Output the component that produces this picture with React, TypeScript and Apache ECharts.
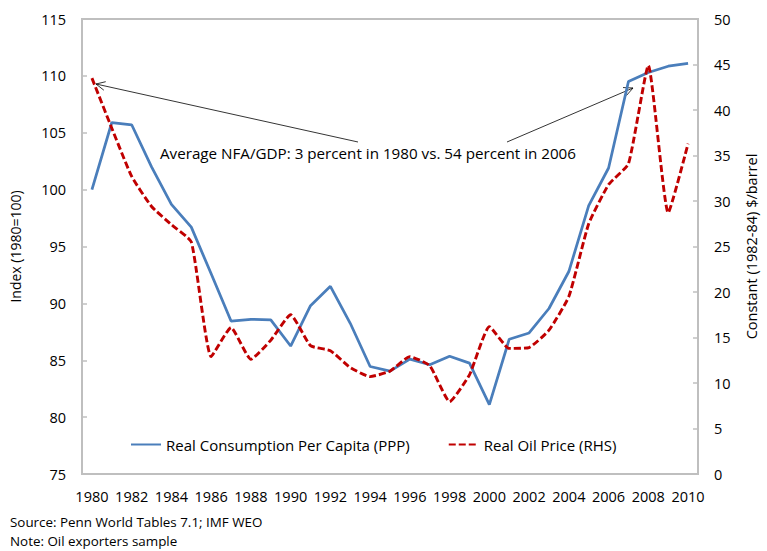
import React, { useEffect, useRef } from "react";
import * as echarts from "echarts";

const years: string[] = [];
for (let y = 1980; y <= 2010; y++) years.push(String(y));

const consumption = [
  100.0, 105.9, 105.7, 102.0, 98.7, 96.7, 92.6, 88.45, 88.6, 88.55,
  86.25, 89.8, 91.5, 88.25, 84.45, 84.05, 85.1, 84.6, 85.35, 84.75,
  81.1, 86.85, 87.4, 89.55, 92.8, 98.6, 101.9, 109.5, 110.3, 110.85,
  111.1,
];

const oilPrice = [
  43.5, 38.0, 32.7, 29.4, 27.4, 25.5, 12.9, 16.1, 12.6, 14.7,
  17.5, 14.1, 13.55, 11.7, 10.7, 11.3, 12.9, 11.9, 7.95, 10.9,
  16.2, 13.8, 13.9, 15.8, 19.5, 27.5, 31.8, 34.1, 44.9, 28.7,
  36.3,
];

const leftTicks = { min: 75, max: 115, interval: 5 };
const rightTicks = { min: 0, max: 50, interval: 5 };

const FONT = "'Open Sans', sans-serif";

function arrow(x1: number, y1: number, x2: number, y2: number) {
  const ang = Math.atan2(y2 - y1, x2 - x1);
  const len = 10;
  const spread = 0.45;
  const a1 = ang + Math.PI - spread;
  const a2 = ang + Math.PI + spread;
  return [
    {
      type: "line",
      shape: { x1, y1, x2, y2 },
      style: { stroke: "#000", lineWidth: 0.8 },
      silent: true,
    },
    {
      type: "polyline",
      shape: {
        points: [
          [x2 + len * Math.cos(a1), y2 + len * Math.sin(a1)],
          [x2, y2],
          [x2 + len * Math.cos(a2), y2 + len * Math.sin(a2)],
        ],
      },
      style: { stroke: "#000", lineWidth: 0.8, fill: "none" },
      silent: true,
    },
  ];
}

export default function App() {
  const ref = useRef<HTMLDivElement>(null);
  useEffect(() => {
    if (!ref.current) return;
    const chart = echarts.init(ref.current, null, { renderer: "svg" });
    chart.setOption({
      animation: false,
      textStyle: { fontFamily: FONT },
      grid: {
        left: 77,
        right: 54,
        top: 19,
        bottom: 77,
        show: true,
        borderColor: "#bfbfbf",
        borderWidth: 2,
      },
      legend: {
        left: 125,
        top: 432,
        itemWidth: 30,
        itemHeight: 14,
        itemGap: 38,
        itemStyle: { opacity: 0 },
        textStyle: { fontFamily: FONT, fontSize: 15, color: "#000" },
        data: ["Real Consumption Per Capita (PPP)", "Real Oil Price (RHS)"],
      },
      xAxis: {
        type: "category",
        data: years,
        boundaryGap: true,
        axisLine: { lineStyle: { color: "#bfbfbf", width: 2 } },
        axisTick: {
          inside: true,
          length: 5,
          interval: 0,
          lineStyle: { color: "#bfbfbf", width: 1.5 },
        },
        axisLabel: {
          interval: 1,
          margin: 15,
          fontSize: 14.5,
          color: "#000",
          fontFamily: FONT,
        },
      },
      yAxis: [
        {
          type: "value",
          ...leftTicks,
          name: "Index (1980=100)",
          nameLocation: "middle",
          nameGap: 60,
          nameTextStyle: { fontSize: 14, color: "#000", fontFamily: FONT },
          axisLine: { show: true, lineStyle: { color: "#bfbfbf", width: 2 } },
          axisTick: {
            show: true,
            inside: true,
            length: 5,
            lineStyle: { color: "#bfbfbf", width: 1.5 },
          },
          splitLine: { show: false },
          axisLabel: { margin: 16, fontSize: 14.5, color: "#000", fontFamily: FONT },
        },
        {
          type: "value",
          ...rightTicks,
          name: "Constant (1982-84) $/barrel",
          nameLocation: "middle",
          nameGap: 46,
          nameRotate: 90,
          nameTextStyle: { fontSize: 14.5, color: "#000", fontFamily: FONT },
          axisLine: { show: true, lineStyle: { color: "#bfbfbf", width: 2 } },
          axisTick: {
            show: true,
            inside: true,
            length: 5,
            lineStyle: { color: "#bfbfbf", width: 1.5 },
          },
          splitLine: { show: false },
          axisLabel: { margin: 16, fontSize: 14.5, color: "#000", fontFamily: FONT },
        },
      ],
      series: [
        {
          name: "Real Consumption Per Capita (PPP)",
          type: "line",
          yAxisIndex: 0,
          data: consumption,
          symbol: "none",
          lineStyle: { color: "#4a7ebb", width: 2.75 },
          itemStyle: { color: "#4a7ebb" },
        },
        {
          name: "Real Oil Price (RHS)",
          type: "line",
          yAxisIndex: 1,
          data: oilPrice,
          symbol: "none",
          smooth: 0.15,
          lineStyle: { color: "#c00000", width: 2.9, type: [7, 3] },
          itemStyle: { color: "#c00000" },
        },
      ],
      graphic: [
        ...arrow(358, 142, 96, 84),
        ...arrow(507, 142, 633, 88),
        {
          type: "text",
          left: 160,
          top: 145,
          style: {
            text: "Average NFA/GDP: 3 percent in 1980 vs. 54 percent in 2006",
            fontFamily: FONT,
            fontSize: 15.2,
            fill: "#000",
          },
        },
        {
          type: "text",
          left: 10,
          top: 515,
          style: {
            text: "Source: Penn World Tables 7.1; IMF WEO",
            fontFamily: FONT,
            fontSize: 13.4,
            fill: "#000",
          },
        },
        {
          type: "text",
          left: 10,
          top: 534,
          style: {
            text: "Note: Oil exporters sample",
            fontFamily: FONT,
            fontSize: 13.4,
            fill: "#000",
          },
        },
      ],
    });
    return () => chart.dispose();
  }, []);
  return <div ref={ref} style={{ width: 767, height: 551, position: "absolute", left: 0, top: 0 }} />;
}
